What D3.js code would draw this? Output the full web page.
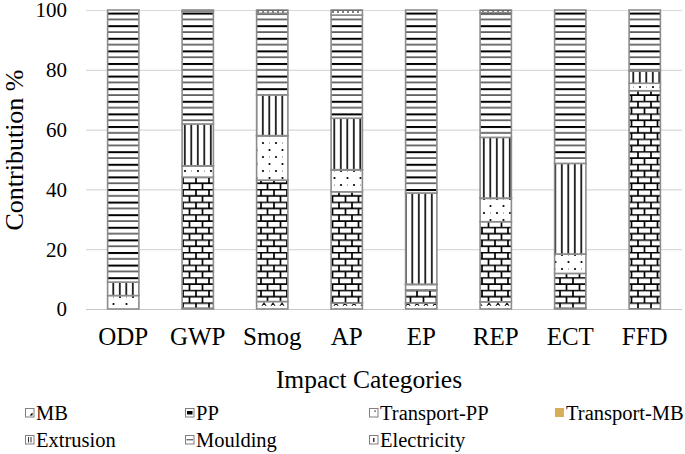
<!DOCTYPE html>
<html><head><meta charset="utf-8">
<script src="https://cdn.jsdelivr.net/npm/d3@7"></script>
<style>body{margin:0;background:#fff}svg{display:block}svg text{font-family:"Liberation Serif","Times New Roman",Tinos,serif}</style>
</head><body>
<svg id="c" width="685" height="454"></svg>
<script>
const categories = ["ODP","GWP","Smog","AP","EP","REP","ECT","FFD"];
const seriesNames = ["MB","PP","Transport-PP","Transport-MB","Extrusion","Moulding","Electricity"];
const MB          = [0,   0.3, 2.5,  2,    2,    2.4,  0.3, 0];
const PP          = [0,   43.8,40.6, 37.2, 4.4,  26.8, 11.6,73];
const TransportPP = [4.5, 3.7, 14.8, 7.3,  1.8,  7.8,  6.5, 2.5];
const TransportMB = [0,   0.1, 0.1,  0.1,  0.1,  0.1,  0,   0];
const Extrusion   = [4.5, 14,  13.6, 17.2, 30.5, 20.3, 30.3,4.1];
const Moulding    = [91,  37.6,27.3, 34.5, 61.2, 41.7, 51.3,20.4];
const Electricity = [0,   0.5, 1.1,  1.7,  0,    0.9,  0,   0];
const yTicks = [0,20,40,60,80,100];

const seriesValues = [MB,PP,TransportPP,TransportMB,Extrusion,Moulding,Electricity];
const rows = categories.map((c,i)=>{const r={cat:c};seriesNames.forEach((s,j)=>r[s]=seriesValues[j][i]);return r;});

const svg = d3.select("#c");
const L=86,R=682,T=10,B=309;
const x = d3.scaleBand().domain(categories).range([L,R]).paddingInner(0.58).paddingOuter(0.29);
const y = d3.scaleLinear().domain([0,100]).range([B,T]);

// patterns
const defs = svg.append("defs");
function pat(id,w,h,draw){const p=defs.append("pattern").attr("id",id).attr("patternUnits","userSpaceOnUse").attr("width",w).attr("height",h);
  p.append("rect").attr("width",w).attr("height",h).attr("fill","#fff"); draw(p);}
pat("pMB",9,6,p=>{p.append("path").attr("d","M1,6 L3,2.5 L5,6 M2,4.5 L4,4.5").attr("stroke","#000").attr("stroke-width",0.9).attr("fill","none");});
pat("pPP",13,12.6,p=>{p.append("path").attr("d","M0,0.7 H13 M0,7 H13 M1,0.7 V7 M7.5,7 V12.6").attr("stroke","#000").attr("stroke-width",1.7).attr("fill","none");});
pat("pTPP",13,14,p=>{p.append("circle").attr("cx",3).attr("cy",3).attr("r",1.1).attr("fill","#000");
  p.append("circle").attr("cx",9.5).attr("cy",10).attr("r",1.1).attr("fill","#000");
  p.append("circle").attr("cx",9.5).attr("cy",3).attr("r",0.5).attr("fill","#444");});
pat("pExt",6.5,10,p=>{p.append("rect").attr("x",2).attr("y",0).attr("width",1.6).attr("height",10).attr("fill","#000");});
pat("pMould",10,12.6,p=>{p.append("rect").attr("x",0).attr("y",0).attr("width",10).attr("height",2).attr("fill","#000");
  p.append("rect").attr("x",0).attr("y",6.3).attr("width",10).attr("height",1.1).attr("fill","#000");});
pat("pElec",10,5,p=>{p.append("path").attr("d","M0,0.5 H10 M3,0.5 V3 M8,0.5 V3").attr("stroke","#000").attr("stroke-width",1).attr("fill","none");});
const fills = {"MB":"url(#pMB)","PP":"url(#pPP)","Transport-PP":"url(#pTPP)","Transport-MB":"#D9AE5A","Extrusion":"url(#pExt)","Moulding":"url(#pMould)","Electricity":"url(#pElec)"};

// gridlines
svg.append("g").selectAll("line").data(yTicks).join("line")
  .attr("x1",L).attr("x2",R).attr("y1",d=>y(d)+0.5).attr("y2",d=>y(d)+0.5)
  .attr("stroke",d=>d===0?"#c8c8c8":"#d9d9d9").attr("stroke-width",1.2);

// y tick labels
svg.append("g").selectAll("text").data(yTicks).join("text")
  .attr("x",67).attr("y",d=>y(d)).attr("dy","0.35em").attr("text-anchor","end")
  .attr("font-size",21).attr("fill","#000").text(d=>d);

// bars
const stack = d3.stack().keys(seriesNames)(rows);
const gb = svg.append("g");
stack.forEach(s=>{
  gb.append("g").selectAll("rect").data(s.filter(d=>d[1]-d[0]>0)).join("rect")
    .attr("x",d=>x(d.data.cat)).attr("width",x.bandwidth())
    .attr("y",d=>y(d[1])).attr("height",d=>y(d[0])-y(d[1]))
    .attr("fill",fills[s.key]).attr("stroke","#8c8c8c").attr("stroke-width",1.6);
});

// x labels
svg.append("g").selectAll("text").data(categories).join("text")
  .attr("x",d=>x(d)+x.bandwidth()/2).attr("y",336).attr("dy","0.35em").attr("text-anchor","middle")
  .attr("font-size",25).attr("fill","#000").text(d=>d);

svg.append("text").attr("x",369).attr("y",379).attr("dy","0.35em").attr("text-anchor","middle")
  .attr("font-size",25.5).text("Impact Categories");
svg.append("text").attr("transform","translate(14,150) rotate(-90)").attr("dy","0.35em").attr("text-anchor","middle")
  .attr("font-size",26).text("Contribution %");

// legend
const legPos = {"MB":[25,413],"PP":[185,413],"Transport-PP":[369,413],"Transport-MB":[555,413],
  "Extrusion":[25,440],"Moulding":[185,440],"Electricity":[369,440]};
const lg = svg.append("g");
seriesNames.forEach(n=>{
  const [lx,ly]=legPos[n];
  const g = lg.append("g").attr("transform",`translate(${lx},${ly-5})`);
  if(n==="Transport-MB"){
    g.append("rect").attr("x",0).attr("y",0).attr("width",9).attr("height",9).attr("fill","#D9AE5A");
  } else {
    g.append("rect").attr("x",0.5).attr("y",0.5).attr("width",8.5).attr("height",8.5).attr("fill","#fff").attr("stroke","#7f7f7f").attr("stroke-width",1);
    if(n==="MB") g.append("path").attr("d","M4.5,7.5 L7.5,7.5 L7.5,4.5 Z").attr("fill","#000");
    if(n==="PP") g.append("rect").attr("x",2).attr("y",3).attr("width",5.5).attr("height",3.5).attr("fill","#000");
    if(n==="Transport-PP") g.append("rect").attr("x",5.5).attr("y",2.5).attr("width",1.2).attr("height",1.2).attr("fill","#000");
    if(n==="Extrusion") g.append("path").attr("d","M3.5,2 V7.5 M6,2 V7.5").attr("stroke","#333").attr("stroke-width",1);
    if(n==="Moulding") g.append("path").attr("d","M1.5,4.8 H8").attr("stroke","#333").attr("stroke-width",1);
    if(n==="Electricity") g.append("path").attr("d","M4.8,3 V7").attr("stroke","#000").attr("stroke-width",1.2);
  }
  lg.append("text").attr("x",lx+11).attr("y",ly).attr("dy","0.35em").attr("font-size",20.5).text(n);
});
</script>
</body></html>
